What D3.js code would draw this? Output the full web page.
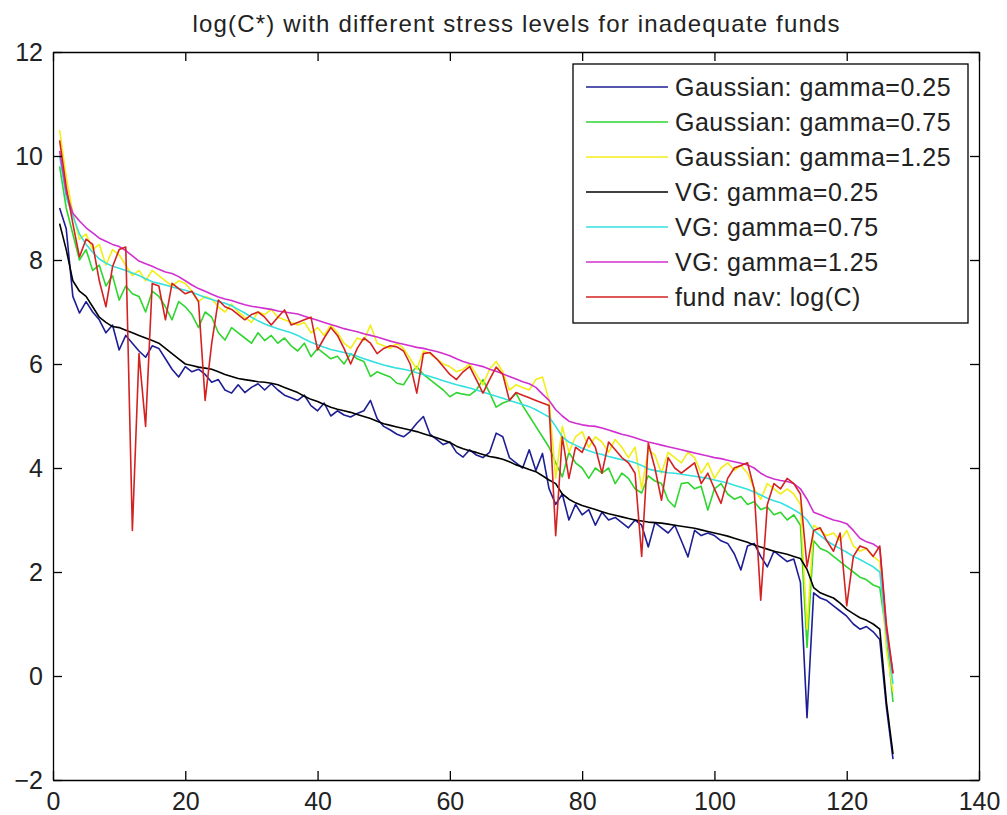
<!DOCTYPE html>
<html>
<head>
<meta charset="utf-8">
<script src="https://cdn.jsdelivr.net/npm/d3@7/dist/d3.min.js"></script>
<style>
  body { margin: 0; background: #fff; }
  svg { display: block; font-family: "Liberation Sans", Arial, sans-serif; }
</style>
</head>
<body>
<svg id="chart"></svg>
<script>
const chartTitle = "log(C*) with different stress levels for inadequate funds";
const xTicks = [0, 20, 40, 60, 80, 100, 120, 140];
const yTicks = [-2, 0, 2, 4, 6, 8, 10, 12];

const seriesNames = [
  "Gaussian: gamma=0.25",
  "Gaussian: gamma=0.75",
  "Gaussian: gamma=1.25",
  "VG: gamma=0.25",
  "VG: gamma=0.75",
  "VG: gamma=1.25",
  "fund nav: log(C)"
];
const seriesColors = ["#1e1e94", "#2fd62f", "#f2ee1a", "#000000", "#35e0e0", "#d030d0", "#d42222"];

// values for fund 1..127
const gaussian025 = [
  9.0, 8.6, 7.3, 6.98, 7.2, 7.0, 6.85, 6.6, 6.75, 6.27,
  6.55, 6.4, 6.25, 6.13, 6.35, 6.3, 6.1, 5.9, 5.75, 5.95,
  5.85, 5.9, 5.8, 5.65, 5.7, 5.5, 5.44, 5.6, 5.45, 5.55,
  5.62, 5.5, 5.62, 5.5, 5.4, 5.35, 5.3, 5.4, 5.2, 5.1,
  5.25, 5.0, 5.1, 5.02, 4.98, 5.05, 5.1, 5.3, 4.95, 4.8,
  4.73, 4.65, 4.6, 4.7, 4.86, 4.99, 4.65, 4.55, 4.45, 4.5,
  4.3, 4.21, 4.35, 4.25, 4.2, 4.3, 4.67, 4.6, 4.2, 4.1,
  4.0, 4.35, 3.95, 4.28, 3.6, 3.3, 3.5, 3.0, 3.3, 3.1,
  3.2, 2.9, 3.15, 3.0, 3.05, 2.95, 2.85, 3.0, 2.9, 2.48,
  2.95, 2.85, 2.75, 2.9, 2.6, 2.29, 2.8, 2.7, 2.75, 2.7,
  2.6, 2.55, 2.35, 2.04, 2.5, 2.55, 2.3, 2.1, 2.4, 2.3,
  2.2, 2.25, 1.8, -0.8, 1.6, 1.5, 1.45, 1.35, 1.25, 1.15,
  1.0, 0.9, 0.95, 0.85, 0.7, -0.6, -1.6
];
const gaussian075 = [
  9.8, 9.0, 8.5, 8.0, 8.2, 7.8, 7.9, 7.5, 7.7, 7.23,
  7.5, 7.35, 7.3, 7.0, 7.4, 7.3, 7.1, 6.85, 7.2, 7.1,
  6.95, 6.7, 7.0, 6.9, 6.6, 6.46, 6.7, 6.6, 6.5, 6.4,
  6.6, 6.45, 6.55, 6.4, 6.5, 6.35, 6.25, 6.4, 6.14, 6.3,
  6.2, 6.1, 6.15, 6.0, 6.2, 6.1, 6.05, 5.76, 5.85, 5.8,
  5.75, 5.63, 5.6, 5.8, 5.95, 5.8, 5.7, 5.6, 5.5, 5.37,
  5.45, 5.42, 5.4, 5.5, 5.7, 5.45, 5.17, 5.25, 5.3, 5.44,
  5.2, 5.0, 4.8, 4.6, 4.4, 4.1, 3.83, 4.3, 4.1, 4.0,
  3.8, 4.0, 3.9, 4.0, 3.7, 3.9, 3.8, 3.6, 3.52, 3.85,
  3.75, 3.7, 3.38, 3.25, 3.7, 3.72, 3.6, 3.65, 3.19, 3.6,
  3.7, 3.5, 3.4, 3.45, 3.3, 3.35, 3.2, 3.25, 3.1, 3.15,
  3.0, 3.1, 2.9, 0.55, 2.6, 2.45, 2.4, 2.3, 2.2, 2.1,
  2.0, 1.9, 1.85, 1.75, 1.7, 0.8, -0.5
];
const gaussian125 = [
  10.5, 9.6, 8.9, 8.4, 8.5, 8.2, 8.3, 7.9, 8.2, 8.1,
  7.9, 7.7, 7.8, 7.6, 7.8, 7.7, 7.6, 7.5, 7.6, 7.55,
  7.4, 7.2, 7.3, 7.25, 7.1, 7.0, 7.15, 7.0, 6.9, 6.8,
  7.0, 6.95, 7.05, 6.9, 6.85, 6.8, 6.75, 6.8, 6.6, 6.7,
  6.55, 6.75, 6.6, 6.4, 6.3, 6.5, 6.45, 6.75, 6.4, 6.35,
  6.3, 6.4, 6.3, 6.1, 5.9, 6.25, 6.2, 6.1, 6.0, 5.95,
  5.85, 5.9, 6.0, 5.8, 5.6, 5.9, 6.05, 5.85, 5.5, 5.6,
  5.55, 5.5, 5.7, 5.75, 5.3, 3.8, 4.8, 4.3, 4.6, 4.7,
  4.4, 4.6, 4.5, 4.3, 4.55, 4.4, 4.2, 4.4, 3.6, 4.35,
  4.25, 3.9, 4.3, 4.2, 4.1, 4.3, 4.2, 3.9, 4.1, 3.8,
  4.0, 4.1, 3.95, 4.05, 3.9, 3.6, 3.4, 3.7, 3.6, 3.5,
  3.6, 3.5, 3.3, 0.9, 2.9, 2.8, 2.7, 2.75, 2.6, 2.8,
  2.5, 2.4, 2.45, 2.3, 2.2, 0.5, -0.3
];
const vg025 = [
  8.7, 8.2, 7.6, 7.4, 7.3, 7.1, 6.9, 6.8, 6.72, 6.7,
  6.65, 6.6, 6.55, 6.5, 6.45, 6.4, 6.3, 6.2, 6.1, 6.0,
  5.97, 5.94, 5.92, 5.9, 5.85, 5.8, 5.76, 5.72, 5.7, 5.68,
  5.66, 5.65, 5.63, 5.6, 5.55, 5.5, 5.45, 5.38, 5.32, 5.28,
  5.22, 5.17, 5.13, 5.1, 5.07, 5.03, 4.99, 4.95, 4.9, 4.85,
  4.82, 4.79, 4.76, 4.73, 4.7, 4.66, 4.62, 4.58, 4.54, 4.49,
  4.42, 4.37, 4.33, 4.3, 4.26, 4.22, 4.2, 4.17, 4.12, 4.06,
  4.02, 3.97, 3.93, 3.85, 3.77, 3.7, 3.5, 3.4, 3.33, 3.28,
  3.24, 3.2, 3.16, 3.12, 3.09, 3.06, 3.03, 3.0, 2.98, 2.96,
  2.95, 2.94, 2.92, 2.9, 2.88, 2.86, 2.84, 2.81, 2.78, 2.75,
  2.72, 2.69, 2.65, 2.61, 2.57, 2.52, 2.48, 2.44, 2.4, 2.37,
  2.34, 2.3, 2.26, 2.05, 1.7, 1.6, 1.55, 1.5, 1.4, 1.28,
  1.2, 1.12, 1.07, 1.0, 0.9, -0.5, -1.5
];
const vg075 = [
  10.0, 9.2, 8.85, 8.5, 8.3, 8.15, 8.02, 7.94, 7.88, 7.84,
  7.8, 7.75, 7.7, 7.64, 7.58, 7.55, 7.52, 7.48, 7.45, 7.42,
  7.38, 7.33, 7.28, 7.24, 7.2, 7.17, 7.12, 7.05, 6.98, 6.9,
  6.83, 6.77, 6.72, 6.68, 6.64, 6.6, 6.55, 6.48, 6.42, 6.37,
  6.32, 6.28, 6.25, 6.22, 6.19, 6.15, 6.1, 6.06, 6.02, 5.98,
  5.95, 5.92, 5.9, 5.87, 5.83, 5.8, 5.76, 5.72, 5.68, 5.64,
  5.6, 5.57, 5.54, 5.5, 5.46, 5.42, 5.38, 5.34, 5.3, 5.26,
  5.22, 5.18, 5.12, 5.05, 4.98, 4.8, 4.6, 4.5, 4.44, 4.38,
  4.33, 4.29, 4.26, 4.22, 4.19, 4.16, 4.14, 4.1, 4.05, 3.98,
  3.95, 3.93, 3.91, 3.9, 3.88, 3.86, 3.84, 3.82, 3.8, 3.77,
  3.74, 3.71, 3.67, 3.63, 3.59, 3.54, 3.48, 3.42, 3.37, 3.33,
  3.27, 3.2, 3.12, 3.0, 2.8, 2.7, 2.6, 2.52, 2.45, 2.38,
  2.3, 2.24, 2.17, 2.1, 2.0, 0.8, -0.15
];
const vg125 = [
  10.1, 9.3, 8.9, 8.75, 8.62, 8.52, 8.42, 8.36, 8.3, 8.26,
  8.18, 8.08, 7.98, 7.93, 7.88, 7.82, 7.77, 7.74, 7.68, 7.6,
  7.52, 7.45, 7.4, 7.34, 7.29, 7.25, 7.22, 7.18, 7.14, 7.11,
  7.09, 7.07, 7.05, 7.02, 7.0, 6.98, 6.96, 6.92, 6.88, 6.84,
  6.8, 6.76, 6.72, 6.68, 6.65, 6.62, 6.58, 6.55, 6.52, 6.48,
  6.44, 6.41, 6.38, 6.35, 6.32, 6.3, 6.27, 6.24, 6.2, 6.16,
  6.1, 6.05, 6.01, 5.98, 5.95, 5.9, 5.86, 5.81, 5.76, 5.71,
  5.66, 5.62, 5.55, 5.42, 5.3, 5.12, 5.0, 4.9, 4.86, 4.83,
  4.81, 4.8, 4.77, 4.73, 4.69, 4.65, 4.62, 4.58, 4.54, 4.5,
  4.47, 4.44, 4.41, 4.38, 4.35, 4.32, 4.29, 4.26, 4.23, 4.2,
  4.18, 4.15, 4.12, 4.09, 4.06, 4.0, 3.9, 3.83, 3.79, 3.76,
  3.74, 3.7, 3.6, 3.4, 3.15, 3.1, 3.05, 3.0, 2.97, 2.93,
  2.8, 2.65, 2.58, 2.54, 2.45, 0.9, 0.05
];
const fundNav = [
  10.3, 9.4, 8.7, 8.06, 8.4, 8.3, 7.6, 7.1, 7.87, 8.2,
  8.25, 2.8, 6.2, 4.8, 7.55, 7.5, 6.85, 7.55, 7.45, 7.35,
  7.4, 7.2, 5.3, 6.4, 7.23, 7.1, 7.05, 6.95, 6.85, 6.95,
  7.0, 6.9, 6.75, 6.9, 7.04, 6.75, 6.8, 6.85, 6.9, 6.27,
  6.5, 6.7, 6.55, 6.3, 6.0, 6.3, 6.5, 6.4, 6.2, 6.3,
  6.35, 6.33, 6.25, 6.0, 5.44, 6.2, 6.22, 6.1, 5.95, 5.8,
  5.7, 5.85, 5.95, 5.7, 5.44, 5.7, 5.94, 5.8, 5.3, 5.45,
  5.4, 5.35, 5.3, 5.25, 5.2, 2.7, 4.6, 3.8, 4.4, 4.3,
  4.6, 4.4, 3.9, 4.5, 4.35, 4.2, 4.1, 3.9, 2.3, 4.48,
  4.0, 3.38, 4.2, 4.0, 3.9, 4.0, 4.1, 3.7, 3.9, 3.6,
  3.32, 3.8, 4.0, 4.05, 4.1, 3.6, 1.46, 3.3, 3.7, 3.6,
  3.8, 3.7, 3.5, 2.1, 2.8, 2.85, 2.6, 2.4, 2.75, 1.35,
  2.3, 2.5, 2.45, 2.3, 2.5, 1.0, 0.05
];

const allSeries = [gaussian025, gaussian075, gaussian125, vg025, vg075, vg125, fundNav];

class LineChart {
    margin = { top: 52, right: 28, bottom: 35, left: 53 }

    constructor(svg, width = 926, height = 728) {
        this.svg = d3.select(svg);
        this.width = width;
        this.height = height;
    }

    initialize() {
        this.svg
            .attr("width", this.width + this.margin.left + this.margin.right)
            .attr("height", this.height + this.margin.top + this.margin.bottom);

        this.container = this.svg.append("g")
            .attr("transform", `translate(${this.margin.left}, ${this.margin.top})`);

        this.xScale = d3.scaleLinear().domain([0, 140]).range([0, this.width]);
        this.yScale = d3.scaleLinear().domain([-2, 12]).range([this.height, 0]);
    }

    drawAxes() {
        const tick = 9;
        const styleAxis = g => {
            g.select(".domain").attr("stroke", "#000").attr("stroke-width", 1.3);
            g.selectAll(".tick line").attr("stroke", "#000").attr("stroke-width", 1.3);
            g.selectAll("text").attr("font-size", 25).attr("fill", "#222")
                .attr("font-family", "'Liberation Sans', Arial, sans-serif");
        };

        this.container.append("g")
            .attr("transform", `translate(0, ${this.height})`)
            .call(d3.axisBottom(this.xScale).tickValues(xTicks).tickSizeInner(-tick).tickSizeOuter(0).tickPadding(12))
            .call(styleAxis);
        this.container.append("g")
            .call(d3.axisTop(this.xScale).tickValues(xTicks).tickSizeInner(-tick).tickSizeOuter(0).tickFormat(""))
            .call(styleAxis);
        this.container.append("g")
            .call(d3.axisLeft(this.yScale).tickValues(yTicks).tickSizeInner(-tick).tickSizeOuter(0).tickPadding(10))
            .call(styleAxis);
        this.container.append("g")
            .attr("transform", `translate(${this.width}, 0)`)
            .call(d3.axisRight(this.yScale).tickValues(yTicks).tickSizeInner(-tick).tickSizeOuter(0).tickFormat(""))
            .call(styleAxis);
    }

    drawLines() {
        const line = d3.line()
            .x((d, i) => this.xScale(i + 1))
            .y(d => this.yScale(d));

        this.container.selectAll("path.series")
            .data(allSeries)
            .join("path")
            .attr("class", "series")
            .attr("fill", "none")
            .attr("stroke", (d, i) => seriesColors[i])
            .attr("stroke-width", 1.6)
            .attr("stroke-linejoin", "round")
            .attr("d", line);
    }

    drawLegend() {
        const legend = this.svg.append("g").attr("transform", "translate(573, 64)");
        legend.append("rect")
            .attr("width", 395).attr("height", 259)
            .attr("fill", "#fff").attr("stroke", "#000").attr("stroke-width", 1.3);

        const rows = legend.selectAll("g.row")
            .data(seriesNames)
            .join("g")
            .attr("class", "row")
            .attr("transform", (d, i) => `translate(0, ${23 + i * 35})`);

        rows.append("line")
            .attr("x1", 13).attr("x2", 95)
            .attr("stroke", (d, i) => seriesColors[i])
            .attr("stroke-width", 1.6);
        rows.append("text")
            .attr("x", 102).attr("dy", "0.35em")
            .attr("font-size", 25).attr("fill", "#222")
            .attr("letter-spacing", 0.5)
            .text(d => d);
    }

    drawTitle() {
        this.svg.append("text")
            .attr("x", this.margin.left + this.width / 2)
            .attr("y", 32)
            .attr("text-anchor", "middle")
            .attr("font-size", 24)
            .attr("fill", "#222")
            .attr("textLength", 647)
            .attr("lengthAdjust", "spacing")
            .text(chartTitle);
    }
}

const chart = new LineChart("#chart");
chart.initialize();
chart.drawLines();
chart.drawAxes();
chart.drawLegend();
chart.drawTitle();
</script>
</body>
</html>
